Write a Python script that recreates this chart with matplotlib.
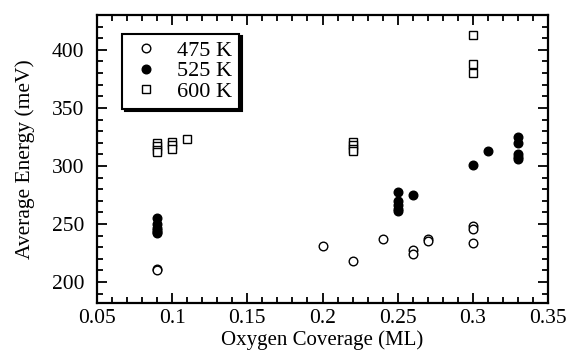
import matplotlib
matplotlib.use("Agg")
import matplotlib.pyplot as plt
from matplotlib.ticker import MultipleLocator

plt.rcParams['font.family'] = ['Liberation Serif', 'DejaVu Serif']

# 475 K (open circles)
x475 = [0.09, 0.09, 0.20, 0.22, 0.24, 0.26, 0.26, 0.27, 0.27, 0.30, 0.30, 0.30]
y475 = [211, 210, 231, 218, 237, 228, 224, 237, 235, 248, 246, 234]

# 525 K (filled circles)
x525 = [0.09, 0.09, 0.09, 0.09, 0.09, 0.09, 0.25, 0.25, 0.25, 0.25, 0.25, 0.26,
        0.30, 0.31, 0.33, 0.33, 0.33, 0.33, 0.33]
y525 = [255, 250, 247, 245, 243, 242, 278, 270, 266, 263, 261, 275,
        301, 313, 325, 320, 310, 308, 306]

# 600 K (open squares)
x600 = [0.09, 0.09, 0.09, 0.09, 0.10, 0.10, 0.10, 0.11, 0.22, 0.22, 0.22, 0.22,
        0.30, 0.30, 0.30]
y600 = [320, 317, 314, 312, 321, 318, 315, 323, 321, 318, 315, 313,
        413, 388, 380]

fig = plt.figure(figsize=(5.67, 3.53), dpi=100)
ax = fig.add_axes([97/567, 1 - 303/353, (548-97)/567, (303-15)/353])

ax.plot(x475, y475, 'o', mfc='white', mec='black', mew=1.0, ms=6.2, label='475 K', ls='none')
ax.plot(x525, y525, 'o', mfc='black', mec='black', mew=1.0, ms=6.2, label='525 K', ls='none')
ax.plot(x600, y600, 's', mfc='white', mec='black', mew=1.0, ms=5.6, label='600 K', ls='none')

ax.set_xlim(0.05, 0.35)
ax.set_ylim(182, 430)
ax.xaxis.set_minor_locator(MultipleLocator(0.01))
ax.yaxis.set_minor_locator(MultipleLocator(10))
ax.set_xticks([0.05, 0.1, 0.15, 0.2, 0.25, 0.3, 0.35])
ax.set_xticklabels(['0.05', '0.1', '0.15', '0.2', '0.25', '0.3', '0.35'])
ax.set_yticks([200, 250, 300, 350, 400])
ax.tick_params(which='both', direction='in', top=True, right=True, labelsize=15.5, width=1.3)
ax.tick_params(which='major', length=7)
ax.tick_params(axis='x', which='major', pad=4.5)
ax.tick_params(axis='y', which='major', pad=9)
ax.tick_params(which='minor', length=4)
for s in ax.spines.values():
    s.set_linewidth(1.6)

ax.set_xlabel('Oxygen Coverage (ML)', fontsize=15, labelpad=1.5)
ax.set_ylabel('Average Energy (meV)', fontsize=15.5, labelpad=12)

leg = ax.legend(loc='upper left', bbox_to_anchor=(0.055, 0.935), fontsize=16,
                frameon=True, fancybox=False, shadow={'color': 'black', 'alpha': 1},
                edgecolor='black', framealpha=1, handletextpad=0.6,
                borderpad=0.3, labelspacing=0.0, handlelength=1.6, borderaxespad=0)
leg.get_frame().set_linewidth(1.5)

fig.savefig('out.png', dpi=100)
